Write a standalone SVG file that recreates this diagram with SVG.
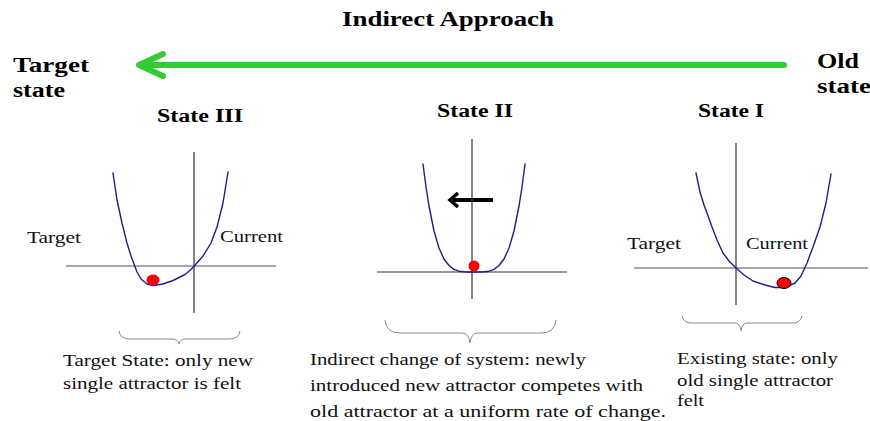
<svg xmlns="http://www.w3.org/2000/svg" width="870" height="421" viewBox="0 0 870 421">
<style>
  .b { font-family: "Liberation Serif", "Times New Roman", serif; font-weight: bold; fill: #000; }
  .r { font-family: "Liberation Serif", "Times New Roman", serif; fill: #111; font-size: 16px; }
  .ax { stroke: #333; stroke-width: 1.2; fill: none; }
  .axg { stroke: #555; stroke-width: 1.2; fill: none; }
  .curve { stroke: #1c1c96; stroke-width: 1.4; fill: none; stroke-linejoin: round; stroke-linecap: round; }
  .brace { stroke: #8a8a8a; stroke-width: 1; fill: none; }
</style>
<rect width="870" height="421" fill="#fff"/>

<g id="header">
  <text class="b" x="342" y="26" font-size="20" textLength="212" lengthAdjust="spacingAndGlyphs">Indirect Approach</text>
  <text class="b" x="13" y="72" font-size="20" textLength="76" lengthAdjust="spacingAndGlyphs">Target</text>
  <text class="b" x="13" y="97" font-size="20" textLength="52" lengthAdjust="spacingAndGlyphs">state</text>
  <text class="b" x="817" y="68" font-size="20" textLength="42" lengthAdjust="spacingAndGlyphs">Old</text>
  <text class="b" x="817" y="93" font-size="20" textLength="54" lengthAdjust="spacingAndGlyphs">state</text>
</g>

<g id="connectors">
  <g id="green-arrow" stroke="#33cc33" stroke-width="6" fill="none" stroke-linecap="round" stroke-linejoin="round">
    <line x1="784" y1="65" x2="141" y2="65"/>
    <polyline points="163,54 139,65 163,76"/>
  </g>
  <g id="black-arrow" stroke="#000" stroke-width="4" fill="none" stroke-linejoin="miter">
    <line x1="493" y1="200" x2="451" y2="200"/>
    <polyline points="458,193 450,200 458,207" stroke-width="3.5"/>
  </g>
</g>

<g id="state3">
  <text class="b" x="157" y="122" font-size="18" textLength="86" lengthAdjust="spacingAndGlyphs">State III</text>
  <line class="ax" x1="194" y1="152" x2="194" y2="313"/>
  <line class="axg" x1="66" y1="266" x2="276" y2="266"/>
  <path class="curve" d="M113,173 L117,200 L122,223 L127,243 L131,256 L134,264 L137,272 L141,279 L147,284 L153,285.5 L163,284 L173,280.5 L185,274.5 L191,269.5 L196,264 L203,256 L211,243 L217,227 L223,203 L228,172"/>
  <ellipse cx="153" cy="280" rx="6.5" ry="5.5" fill="#f00"/>
  <text class="r" x="27" y="243" textLength="54" lengthAdjust="spacingAndGlyphs">Target</text>
  <text class="r" x="220" y="242" textLength="63" lengthAdjust="spacingAndGlyphs">Current</text>
  <path class="brace" d="M119,331 Q120,339 130,339 L172,339 Q178,339 179,344 Q180,339 186,339 L229,339 Q239,339 240,331"/>
  <text class="r" x="63" y="366" textLength="190" lengthAdjust="spacingAndGlyphs">Target State: only new</text>
  <text class="r" x="63" y="389" textLength="178" lengthAdjust="spacingAndGlyphs">single attractor is felt</text>
</g>

<g id="state2">
  <text class="b" x="437" y="117" font-size="18" textLength="76" lengthAdjust="spacingAndGlyphs">State II</text>
  <line class="ax" x1="472" y1="139" x2="472" y2="299"/>
  <line class="ax" x1="377" y1="272" x2="567" y2="272"/>
  <polyline class="curve" points="423,164 426,187 429,206 434,231 439,248 444,259 449,265.5 454,269.4 459,271.2 464,271.8 469,272 474,272 479,272 484,271.8 489,271.2 494,269.4 499,265.5 504,259 509,248 514,231 519,206 522,187 525,164"/>
  <circle cx="474" cy="266" r="5.5" fill="#f00"/>
  <path class="brace" d="M385,320 Q386,333 400,333 L462,333 Q469,333 470,343 Q471,333 478,333 L541,333 Q555,333 556,320"/>
  <text class="r" x="310" y="365" textLength="276" lengthAdjust="spacingAndGlyphs">Indirect change of system: newly</text>
  <text class="r" x="310" y="391" textLength="333" lengthAdjust="spacingAndGlyphs">introduced new attractor competes with</text>
  <text class="r" x="310" y="417" textLength="356" lengthAdjust="spacingAndGlyphs">old attractor at a uniform rate of change.</text>
</g>

<g id="state1">
  <text class="b" x="698" y="117" font-size="18" textLength="66" lengthAdjust="spacingAndGlyphs">State I</text>
  <line class="ax" x1="736" y1="143" x2="736" y2="305"/>
  <line class="axg" x1="634" y1="268" x2="868" y2="268"/>
  <path class="curve" d="M696,173 L700,192 L704,205 L707,213 L712,227 L717,240 L723,253 L729,261 L736,268 L744,275 L753,281 L765,285 L775,287.5 L785,287.5 L795,283 L801,276 L807,263 L813,247 L820,227 L826,203 L831,174"/>
  <ellipse cx="784" cy="283" rx="7" ry="5.5" fill="#f00" stroke="#000" stroke-width="1"/>
  <text class="r" x="627" y="249" textLength="54" lengthAdjust="spacingAndGlyphs">Target</text>
  <text class="r" x="746" y="249" textLength="62" lengthAdjust="spacingAndGlyphs">Current</text>
  <path class="brace" d="M682,316 Q683,323 692,323 L735,323 Q740,323 741,331 Q742,323 747,323 L792,323 Q801,323 802,316"/>
  <text class="r" x="677" y="364" textLength="161" lengthAdjust="spacingAndGlyphs">Existing state: only</text>
  <text class="r" x="677" y="386" textLength="156" lengthAdjust="spacingAndGlyphs">old single attractor</text>
  <text class="r" x="677" y="406" textLength="27" lengthAdjust="spacingAndGlyphs">felt</text>
</g>
</svg>
